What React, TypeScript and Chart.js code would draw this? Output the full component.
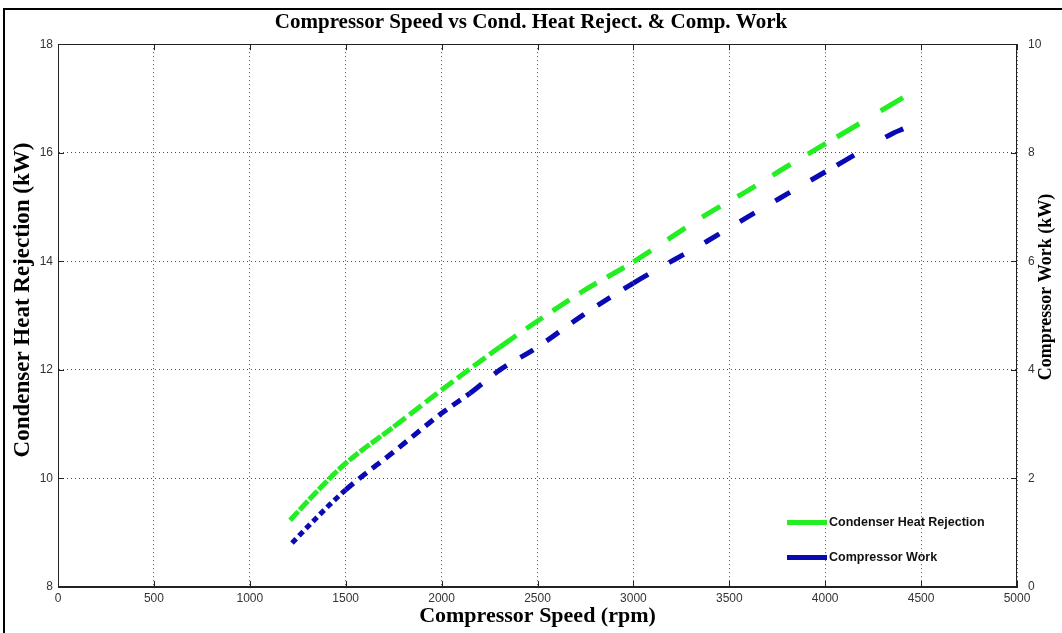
import React, { useEffect, useRef } from "react";
import { Chart, registerables } from "chart.js";

Chart.register(...registerables);

// Condenser heat rejection (left axis, kW) vs compressor speed (rpm)
const heatSpeed = [1210, 1366, 1500, 1750, 2000, 2304, 2500, 2737, 3000, 3384, 3590, 3811, 4061, 4407];
const heatValues = [9.23, 9.82, 10.28, 10.95, 11.63, 12.42, 12.9, 13.45, 13.99, 14.87, 15.29, 15.77, 16.29, 17.02];

// Compressor work (right axis, kW) vs compressor speed (rpm)
const workSpeed = [1220, 1366, 1500, 1750, 2000, 2148, 2304, 2500, 2737, 3000, 3384, 3592, 3811, 4061, 4354, 4407];
const workValues = [0.81, 1.34, 1.79, 2.49, 3.2, 3.57, 4.0, 4.42, 5.01, 5.6, 6.37, 6.81, 7.26, 7.77, 8.36, 8.44];

const xTicks = [0, 500, 1000, 1500, 2000, 2500, 3000, 3500, 4000, 4500, 5000];
const leftTicks = [8, 10, 12, 14, 16, 18];
const rightTicks = [0, 2, 4, 6, 8, 10];

const seriesNames = ["Condenser Heat Rejection", "Compressor Work"];
const chartTitle = "Compressor Speed vs Cond. Heat Reject. & Comp. Work";
const xTitle = "Compressor Speed (rpm)";
const leftTitle = "Condenser Heat Rejection (kW)";
const rightTitle = "Compressor Work (kW)";

const GREEN = "#22ee22";
const BLUE = "#0a0ab4";
const SERIF = "'Liberation Serif', 'Times New Roman', serif";

const boxPlugin = {
  id: "matlabBox",
  afterDraw(chart: any) {
    const { ctx, chartArea: a, scales } = chart;
    ctx.save();
    ctx.strokeStyle = "#222";
    ctx.lineWidth = 1;
    ctx.strokeRect(Math.round(a.left) + 0.5, Math.round(a.top) + 0.5, Math.round(a.right - a.left) - 1, Math.round(a.bottom - a.top) - 1);
    const tl = 6;
    ctx.beginPath();
    for (const v of xTicks) {
      const px = Math.round(scales.x.getPixelForValue(v)) + 0.5;
      ctx.moveTo(px, a.bottom);
      ctx.lineTo(px, a.bottom - tl);
      ctx.moveTo(px, a.top);
      ctx.lineTo(px, a.top + tl);
    }
    for (const v of leftTicks) {
      const py = Math.round(scales.y.getPixelForValue(v)) + 0.5;
      ctx.moveTo(a.left, py);
      ctx.lineTo(a.left + tl, py);
    }
    for (const v of rightTicks) {
      const py = Math.round(scales.y1.getPixelForValue(v)) + 0.5;
      ctx.moveTo(a.right, py);
      ctx.lineTo(a.right - tl, py);
    }
    ctx.stroke();

    // vertical axis titles, both reading bottom-to-top
    ctx.fillStyle = "#000";
    ctx.textAlign = "center";
    ctx.textBaseline = "middle";
    ctx.save();
    ctx.translate(23, 300);
    ctx.rotate(-Math.PI / 2);
    ctx.font = `bold 23px ${SERIF}`;
    ctx.fillText(leftTitle, 0, 0);
    ctx.restore();
    ctx.save();
    ctx.translate(1046, 287);
    ctx.rotate(-Math.PI / 2);
    ctx.font = `bold 18px ${SERIF}`;
    ctx.fillText(rightTitle, 0, 0);
    ctx.restore();
    ctx.restore();
  },
};

const greenDash = (c: any) => {
  const x = c.p0.parsed.x;
  if (x < 1750) return [12, 2];
  if (x < 2304) return [15, 5];
  if (x < 3000) return [20, 12];
  if (x < 4061) return [21, 20];
  return [26, 25];
};
const blueDash = (c: any) => {
  const x = c.p0.parsed.x;
  if (x < 1500) return [6, 4];
  if (x < 2148) return [10, 7];
  if (x < 3000) return [15, 16];
  if (x < 4061) return [17, 24];
  return [20, 36];
};

export default function App() {
  const canvasRef = useRef<HTMLCanvasElement | null>(null);

  useEffect(() => {
    const canvas = canvasRef.current;
    if (!canvas) return;
    const tickFont = { family: "'Liberation Sans', Arial, sans-serif", size: 12 };
    const gridDots = { color: "rgba(0,0,0,0.7)", lineWidth: 1, drawTicks: false };
    const plainTick = (v: any) => String(v);

    const chart = new Chart(canvas, {
      type: "line",
      data: {
        datasets: [
          {
            label: seriesNames[0],
            data: heatSpeed.map((x, i) => ({ x, y: heatValues[i] })),
            yAxisID: "y",
            borderColor: GREEN,
            backgroundColor: GREEN,
            borderWidth: 5,
            borderDash: [20, 12],
            segment: { borderDash: greenDash },
            pointRadius: 0,
            cubicInterpolationMode: "monotone",
            fill: false,
          },
          {
            label: seriesNames[1],
            data: workSpeed.map((x, i) => ({ x, y: workValues[i] })),
            yAxisID: "y1",
            borderColor: BLUE,
            backgroundColor: BLUE,
            borderWidth: 5,
            borderDash: [14, 14],
            segment: { borderDash: blueDash },
            pointRadius: 0,
            cubicInterpolationMode: "monotone",
            fill: false,
          },
        ],
      },
      options: {
        responsive: false,
        animation: false,
        layout: { padding: 0 },
        plugins: {
          legend: { display: false },
          tooltip: { enabled: false },
          title: {
            display: true,
            text: chartTitle,
            color: "#000",
            font: { family: SERIF, size: 21, weight: "bold" },
            padding: { top: 10, bottom: 9 },
          },
        },
        scales: {
          x: {
            type: "linear",
            min: 0,
            max: 5000,
            afterBuildTicks: (s: any) => {
              s.ticks = xTicks.map((v) => ({ value: v }));
            },
            afterFit: (s: any) => {
              s.height = 46;
            },
            ticks: { color: "#333", font: tickFont, padding: 4, maxRotation: 0, autoSkip: false, callback: plainTick },
            grid: { ...gridDots },
            border: { display: true, color: "#222", width: 1, dash: [1, 3] },
            title: {
              display: true,
              text: xTitle,
              color: "#000",
              font: { family: SERIF, size: 22, weight: "bold" },
              padding: { top: 0, bottom: 3 },
            },
          },
          y: {
            type: "linear",
            position: "left",
            min: 8,
            max: 18,
            afterBuildTicks: (s: any) => {
              s.ticks = leftTicks.map((v) => ({ value: v }));
            },
            afterFit: (s: any) => {
              s.width = 58;
            },
            ticks: { color: "#333", font: tickFont, padding: 5, callback: plainTick },
            grid: { ...gridDots },
            border: { display: true, color: "#222", width: 1, dash: [1, 3] },
            title: { display: false },
          },
          y1: {
            type: "linear",
            position: "right",
            min: 0,
            max: 10,
            afterBuildTicks: (s: any) => {
              s.ticks = rightTicks.map((v) => ({ value: v }));
            },
            afterFit: (s: any) => {
              s.width = 45;
            },
            ticks: { color: "#333", font: tickFont, padding: 3, callback: plainTick },
            grid: { display: false },
            border: { display: false },
            title: { display: false },
          },
        },
      },
      plugins: [boxPlugin],
    } as any);
    return () => chart.destroy();
  }, []);

  const legendText: React.CSSProperties = {
    position: "absolute",
    font: "bold 12.5px 'Liberation Sans', Arial, sans-serif",
    color: "#111",
    whiteSpace: "nowrap",
    lineHeight: "14px",
  };
  const bar: React.CSSProperties = { position: "absolute", width: 40, height: 5 };

  return (
    <div style={{ position: "absolute", left: 0, top: 0, width: 1062, height: 633, overflow: "hidden", background: "#fff" }}>
      <canvas ref={canvasRef} width={1062} height={633} style={{ position: "absolute", left: 0, top: 0 }} />
      <div style={{ position: "absolute", left: 3, top: 8, width: 1070, height: 700, borderLeft: "2px solid #000", borderTop: "2px solid #000", pointerEvents: "none" }} />
      <div style={{ ...bar, left: 787, top: 520, background: GREEN }} />
      <div style={{ ...legendText, left: 829, top: 515 }}>{seriesNames[0]}</div>
      <div style={{ ...bar, left: 787, top: 555, background: BLUE }} />
      <div style={{ ...legendText, left: 829, top: 550 }}>{seriesNames[1]}</div>
    </div>
  );
}
